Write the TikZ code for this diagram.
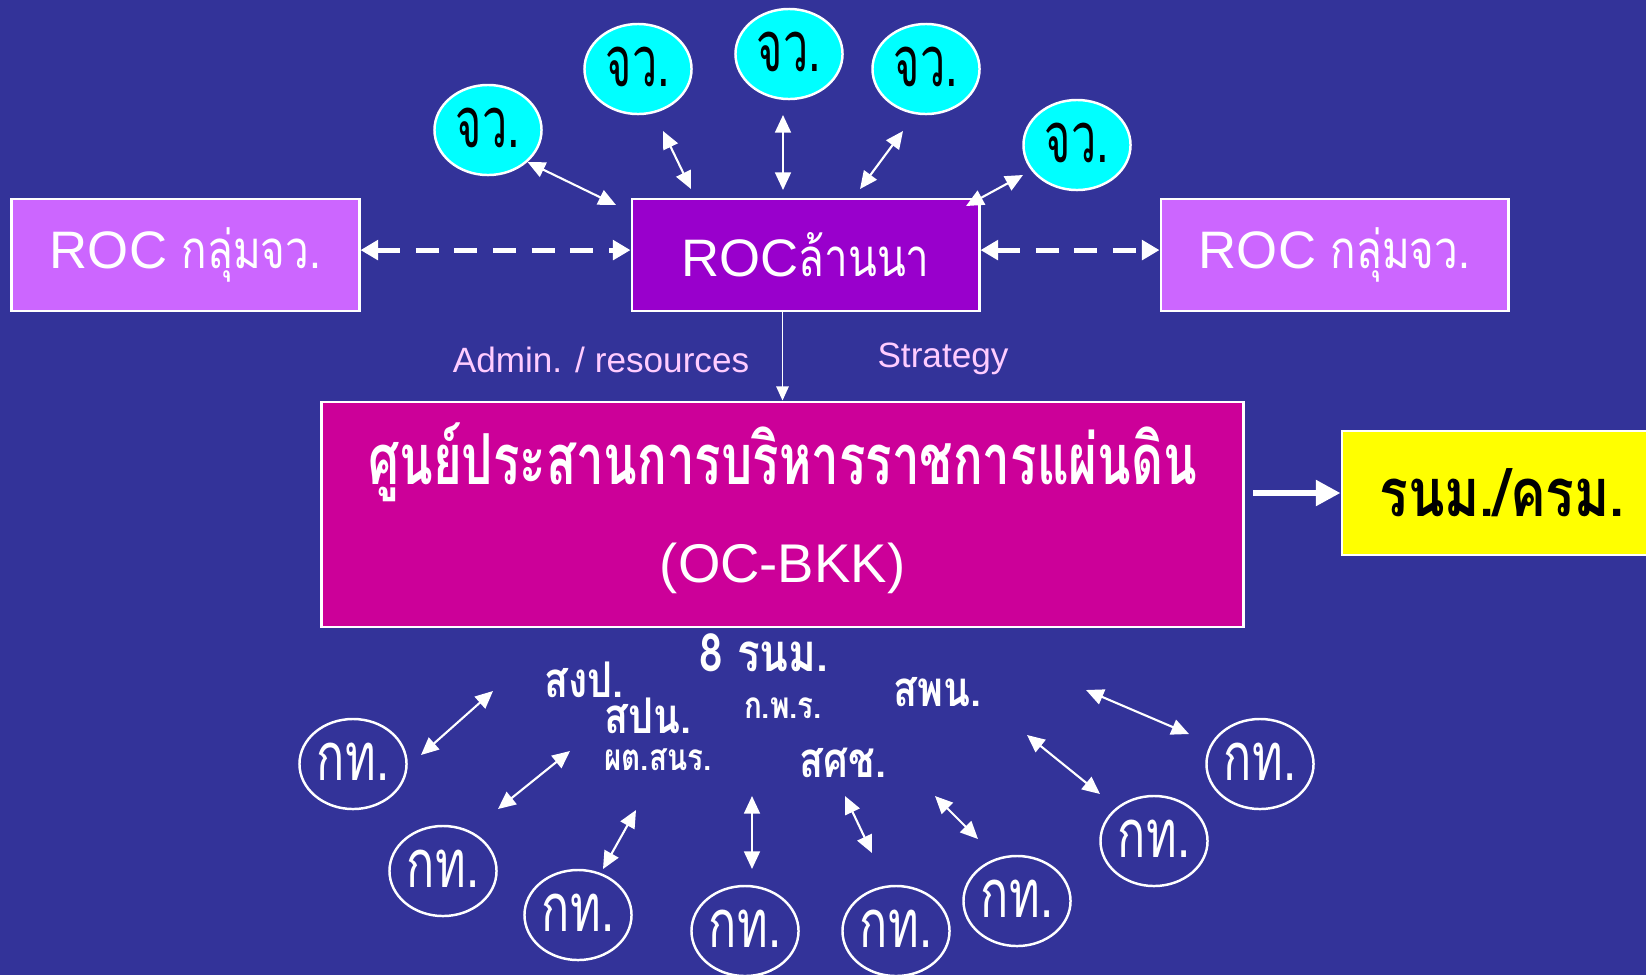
\documentclass[tikz,border=0pt]{standalone}
\usepackage{fontspec}
\setmainfont{Liberation Sans}
\newfontfamily\thai[Script=Thai]{Loma}
\newfontfamily\thainarrow[Script=Thai,FakeStretch=0.8]{Loma}
\newfontfamily\thaitight[Script=Thai,FakeStretch=0.7]{Loma}
\newfontfamily\thaislim[Script=Thai,FakeStretch=0.64]{Loma}
\newfontfamily\thaikt[Script=Thai,FakeStretch=0.7]{Loma}
\usepackage{tikz}
\usetikzlibrary{arrows.meta,shapes.geometric}

\definecolor{bgblue}{RGB}{51,51,153}
\definecolor{rocpurple}{RGB}{204,102,255}
\definecolor{rocdark}{RGB}{153,0,204}
\definecolor{ocmagenta}{RGB}{204,0,153}
\definecolor{labelpink}{RGB}{255,204,255}
\definecolor{jvcyan}{RGB}{0,255,255}
\definecolor{rnmyellow}{RGB}{255,255,0}

\tikzset{
  rocbox/.style={draw=white, line width=0.8pt, fill=rocpurple, minimum width=3.47cm,
    minimum height=1.12cm, text=white, font=\fontsize{15}{18}\selectfont},
  jvnode/.style={ellipse, draw=white, line width=0.7pt, fill=jvcyan, minimum width=1.07cm,
    minimum height=0.9cm, inner sep=0pt, text height=10pt, text depth=0pt,
    font=\thaislim\fontsize{20}{22}\selectfont},
  ktnode/.style={jvnode, fill=none, text=white, text height=9.5pt,
    font=\thaikt\fontsize{19}{21}\selectfont},
  dbl/.style={{Triangle[length=5pt,width=4.5pt]}-{Triangle[length=5pt,width=4.5pt]},
    white, line width=0.6pt},
  dashdbl/.style={{Triangle[length=5pt,width=5.5pt]}-{Triangle[length=5pt,width=5.5pt]},
    white, line width=1.4pt, dash pattern=on 6.5pt off 4.5pt},
  orglabel/.style={text=white, inner sep=0pt, text height=9pt, text depth=1pt,
    font=\thainarrow\bfseries\fontsize{14}{16}\selectfont},
  orgsmall/.style={orglabel, text height=7pt,
    font=\thainarrow\bfseries\fontsize{10.5}{12}\selectfont},
  flowlabel/.style={text=labelpink, font=\fontsize{10}{12}\selectfont},
}

\begin{document}
\begin{tikzpicture}[x=0.01cm,y=-0.01cm]
\fill[bgblue] (0,0) rectangle (1646,975);
\useasboundingbox (0,0) rectangle (1646,975);

% ROC boxes
\draw (185.5,255) node[rocbox] (rocL) {ROC {\thainarrow กลุ่มจว.}};
\draw (805.5,255) node[rocbox, fill=rocdark, text height=13pt, text depth=1pt] (roc) {ROC{\thainarrow ล้านนา}};
\draw (1334.5,255) node[rocbox] (rocR) {ROC {\thainarrow กลุ่มจว.}};

% provinces
\draw (488,130) node[jvnode] (jv1) {จว.};
\draw (638,69) node[jvnode] (jv2) {จว.};
\draw (789,54) node[jvnode] (jv3) {จว.};
\draw (926,69) node[jvnode] (jv4) {จว.};
\draw (1077,145) node[jvnode] (jv5) {จว.};

% operation centre
\draw (782.5,514.5) node[draw=white, line width=0.8pt, fill=ocmagenta, minimum width=9.21cm,
  minimum height=2.25cm] (oc) {};
\draw (782.5,462) node[text=white, font=\thaitight\bfseries\fontsize{20}{22}\selectfont] (octitle)
  {ศูนย์ประสานการบริหารราชการแผ่นดิน};
\draw (782.5,568) node[text=white, font=\fontsize{15.5}{18}\selectfont] (ocname) {(OC-BKK)};
\draw (1502,493) node[draw=white, line width=0.8pt, fill=rnmyellow, minimum width=3.2cm,
  minimum height=1.24cm, font=\thainarrow\bfseries\fontsize{19}{22}\selectfont] (rnm) {รนม./ครม.};

\draw (601,360) node[flowlabel] (admin) {Admin. / resources};
\draw (943,359) node[flowlabel] (strategy) {Strategy};

% ministries
\draw (764,654) node[orglabel, text height=11pt] (n8) {\fontsize{15}{18}\selectfont\bfseries 8 {\thainarrow รนม.}};
\draw (584,683) node[orglabel] (sngp) {สงป.};
\draw (648,719) node[orglabel] (spn) {สปน.};
\draw (658,760) node[orgsmall] (ptsnr) {ผต.สนร.};
\draw (783,708) node[orgsmall] (kpr) {ก.พ.ร.};
\draw (937,692) node[orglabel] (spn2) {สพน.};
\draw (843,763) node[orglabel] (ssc) {สศช.};

% departments
\draw (353,764) node[ktnode] (kt1) {กท.};
\draw (443,871) node[ktnode] (kt2) {กท.};
\draw (578,915) node[ktnode] (kt3) {กท.};
\draw (745,931) node[ktnode] (kt4) {กท.};
\draw (896,931) node[ktnode] (kt5) {กท.};
\draw (1017,901) node[ktnode] (kt6) {กท.};
\draw (1154,841) node[ktnode] (kt7) {กท.};
\draw (1260,764) node[ktnode] (kt8) {กท.};

% arrow ends
\coordinate (t1) at (616,205);
\coordinate (t2s) at (663,131); \coordinate (t2) at (691,189);
\coordinate (t3s) at (783,115); \coordinate (t3) at (783,190);
\coordinate (t4s) at (903,131); \coordinate (t4) at (860,189);
\coordinate (t5s) at (1023,175); \coordinate (t5) at (966,206);

\draw[dbl] (jv1.-39) -- (t1);
\draw[dbl] (t2s) -- (t2);
\draw[dbl] (t3s) -- (t3);
\draw[dbl] (t4s) -- (t4);
\draw[dbl] (t5s) -- (t5);

\draw[dashdbl] ([yshift=1.4pt]rocL.east) -- ([yshift=1.4pt]roc.west);
\draw[dashdbl] ([yshift=1.4pt]roc.east) -- ([yshift=1.4pt]rocR.west);
\draw[-{Triangle[length=4pt,width=3.5pt]}, white, line width=0.5pt] (roc.south -| oc.north) -- (oc.north);
\draw[-{Triangle[length=7pt,width=7pt]}, white, line width=1.8pt, shorten <=2.5pt] (oc.east |- rnm) -- (rnm.west);

\foreach \i/\p/\q in {1/{493,691}/{421,755}, 2/{570,751}/{498,809}, 3/{636,810}/{603,869},
  4/{752,796}/{752,869}, 5/{845,796}/{872,853}, 6/{935,796}/{978,839},
  7/{1027,735}/{1100,794}, 8/{1086,690}/{1189,734}}
{
  \coordinate (b\i s) at (\p);
  \coordinate (b\i e) at (\q);
  \draw[dbl] (b\i s) -- (b\i e);
}

\end{tikzpicture}
\end{document}
